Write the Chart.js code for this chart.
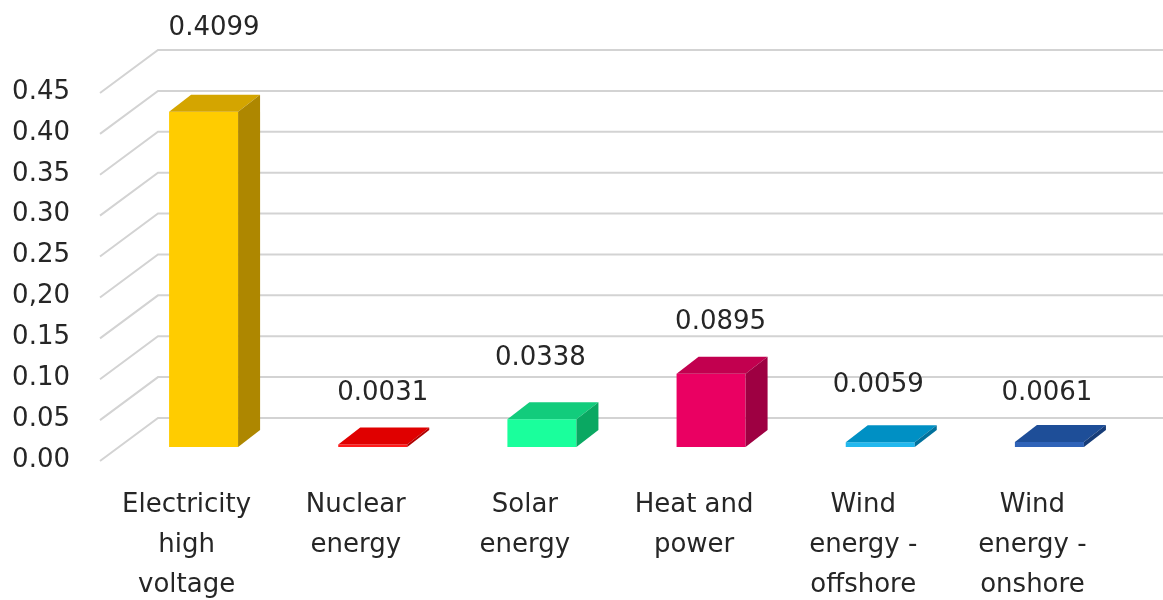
<!DOCTYPE html>
<html>
<head>
<meta charset="utf-8">
<title>Energy sources</title>
<script src="https://cdn.jsdelivr.net/npm/chart.js@4/dist/chart.umd.min.js"></script>
<style>
  html, body { margin: 0; padding: 0; background: #ffffff; }
  #wrap { width: 1163px; height: 600px; }
</style>
</head>
<body>
<div id="wrap"><canvas id="chart" width="1163" height="600"></canvas></div>
<script>
// Categories (multi-line axis labels)
const categories = [
  ["Electricity", "high", "voltage"],
  ["Nuclear", "energy"],
  ["Solar", "energy"],
  ["Heat and", "power"],
  ["Wind", "energy -", "offshore"],
  ["Wind", "energy -", "onshore"]
];

// Series values
const values = [0.4099, 0.0031, 0.0338, 0.0895, 0.0059, 0.0061];

// Value-axis ticks and their printed labels
const tickValues = [0, 0.05, 0.10, 0.15, 0.20, 0.25, 0.30, 0.35, 0.40, 0.45];
const tickLabels = ["0.00", "0.05", "0.10", "0.15", "0,20", "0.25", "0.30", "0.35", "0.40", "0.45"];

// Face colours for each box: front, top, right side
const frontColors = ["#FFCC00", "#FF1A1A", "#1AFF9C", "#EA0062", "#22B8EE", "#2F63B8"];
const topColors   = ["#D4A500", "#E00000", "#12CC7C", "#C2004F", "#0090C4", "#1E4E98"];
const sideColors  = ["#AE8700", "#B00000", "#0AA862", "#9E0042", "#00719C", "#163C78"];

// Where each value label sits, relative to the top-front centre of its box
const labelNudge = [[10.5, -84], [10, -51.5], [-1.5, -61.5], [9.5, -52], [-2, -57], [-2.5, -49]];

const FONT = "'DejaVu Sans', 'Liberation Sans', sans-serif";
const TEXT = "#262626";
const DEPTH_X = 22, DEPTH_Y = -17;        // receding depth of each box
const WALL_DX = 58, WALL_BACK = -29, WALL_FRONT = 14; // floor/wall perspective
const WALL_LEFT = 100;

const box3d = {
  id: "box3d",
  beforeDatasetsDraw(chart) {
    const ctx = chart.ctx;
    const ys = chart.scales.y;
    ctx.save();
    ctx.strokeStyle = "#d3d3d3";
    ctx.lineWidth = 2;
    tickValues.forEach(v => {
      const y = ys.getPixelForValue(v);
      ctx.beginPath();
      ctx.moveTo(WALL_LEFT, y + WALL_FRONT);
      ctx.lineTo(WALL_LEFT + WALL_DX, y + WALL_BACK);
      ctx.lineTo(chart.width, y + WALL_BACK);
      ctx.stroke();
    });
    ctx.restore();
  },
  afterDatasetsDraw(chart) {
    const ctx = chart.ctx;
    const meta = chart.getDatasetMeta(0);
    ctx.save();
    meta.data.forEach((bar, i) => {
      const p = bar.getProps(["x", "y", "base", "width"], true);
      const x0 = p.x - p.width / 2, x1 = p.x + p.width / 2;
      const top = p.y, base = p.base;
      // top face
      ctx.fillStyle = topColors[i];
      ctx.beginPath();
      ctx.moveTo(x0, top);
      ctx.lineTo(x1, top);
      ctx.lineTo(x1 + DEPTH_X, top + DEPTH_Y);
      ctx.lineTo(x0 + DEPTH_X, top + DEPTH_Y);
      ctx.closePath();
      ctx.fill();
      // right side face
      ctx.fillStyle = sideColors[i];
      ctx.beginPath();
      ctx.moveTo(x1, top);
      ctx.lineTo(x1 + DEPTH_X, top + DEPTH_Y);
      ctx.lineTo(x1 + DEPTH_X, base + DEPTH_Y);
      ctx.lineTo(x1, base);
      ctx.closePath();
      ctx.fill();
      // value label
      ctx.fillStyle = TEXT;
      ctx.font = "26px " + FONT;
      ctx.textAlign = "center";
      ctx.textBaseline = "middle";
      ctx.fillText(values[i].toFixed(4), p.x + labelNudge[i][0], top + labelNudge[i][1]);
    });
    ctx.restore();
  }
};

new Chart(document.getElementById("chart"), {
  type: "bar",
  data: {
    labels: categories,
    datasets: [{
      data: values,
      backgroundColor: frontColors,
      borderWidth: 0,
      barPercentage: 0.408,
      categoryPercentage: 1.0
    }]
  },
  options: {
    responsive: false,
    animation: false,
    layout: { padding: { top: 79, right: 29, left: 0, bottom: 0 } },
    plugins: { legend: { display: false }, tooltip: { enabled: false } },
    scales: {
      x: {
        type: "category",
        grid: { display: false, drawTicks: false },
        border: { display: false },
        ticks: {
          color: TEXT,
          font: { family: FONT, size: 26, lineHeight: 40 / 26 },
          padding: 38,
          labelOffset: -17,
          maxRotation: 0,
          minRotation: 0,
          autoSkip: false
        },
        afterFit(scale) { scale.height = 153; }
      },
      y: {
        min: 0,
        max: 0.45,
        grid: { display: false, drawTicks: false },
        border: { display: false },
        afterBuildTicks(scale) {
          scale.ticks = tickValues.map(v => ({ value: v }));
        },
        ticks: {
          color: TEXT,
          font: { family: FONT, size: 26 },
          padding: 49,
          labelOffset: 13,
          callback: (v, i) => tickLabels[i]
        },
        afterFit(scale) { scale.width = 119; }
      }
    }
  },
  plugins: [box3d]
});
</script>
</body>
</html>
